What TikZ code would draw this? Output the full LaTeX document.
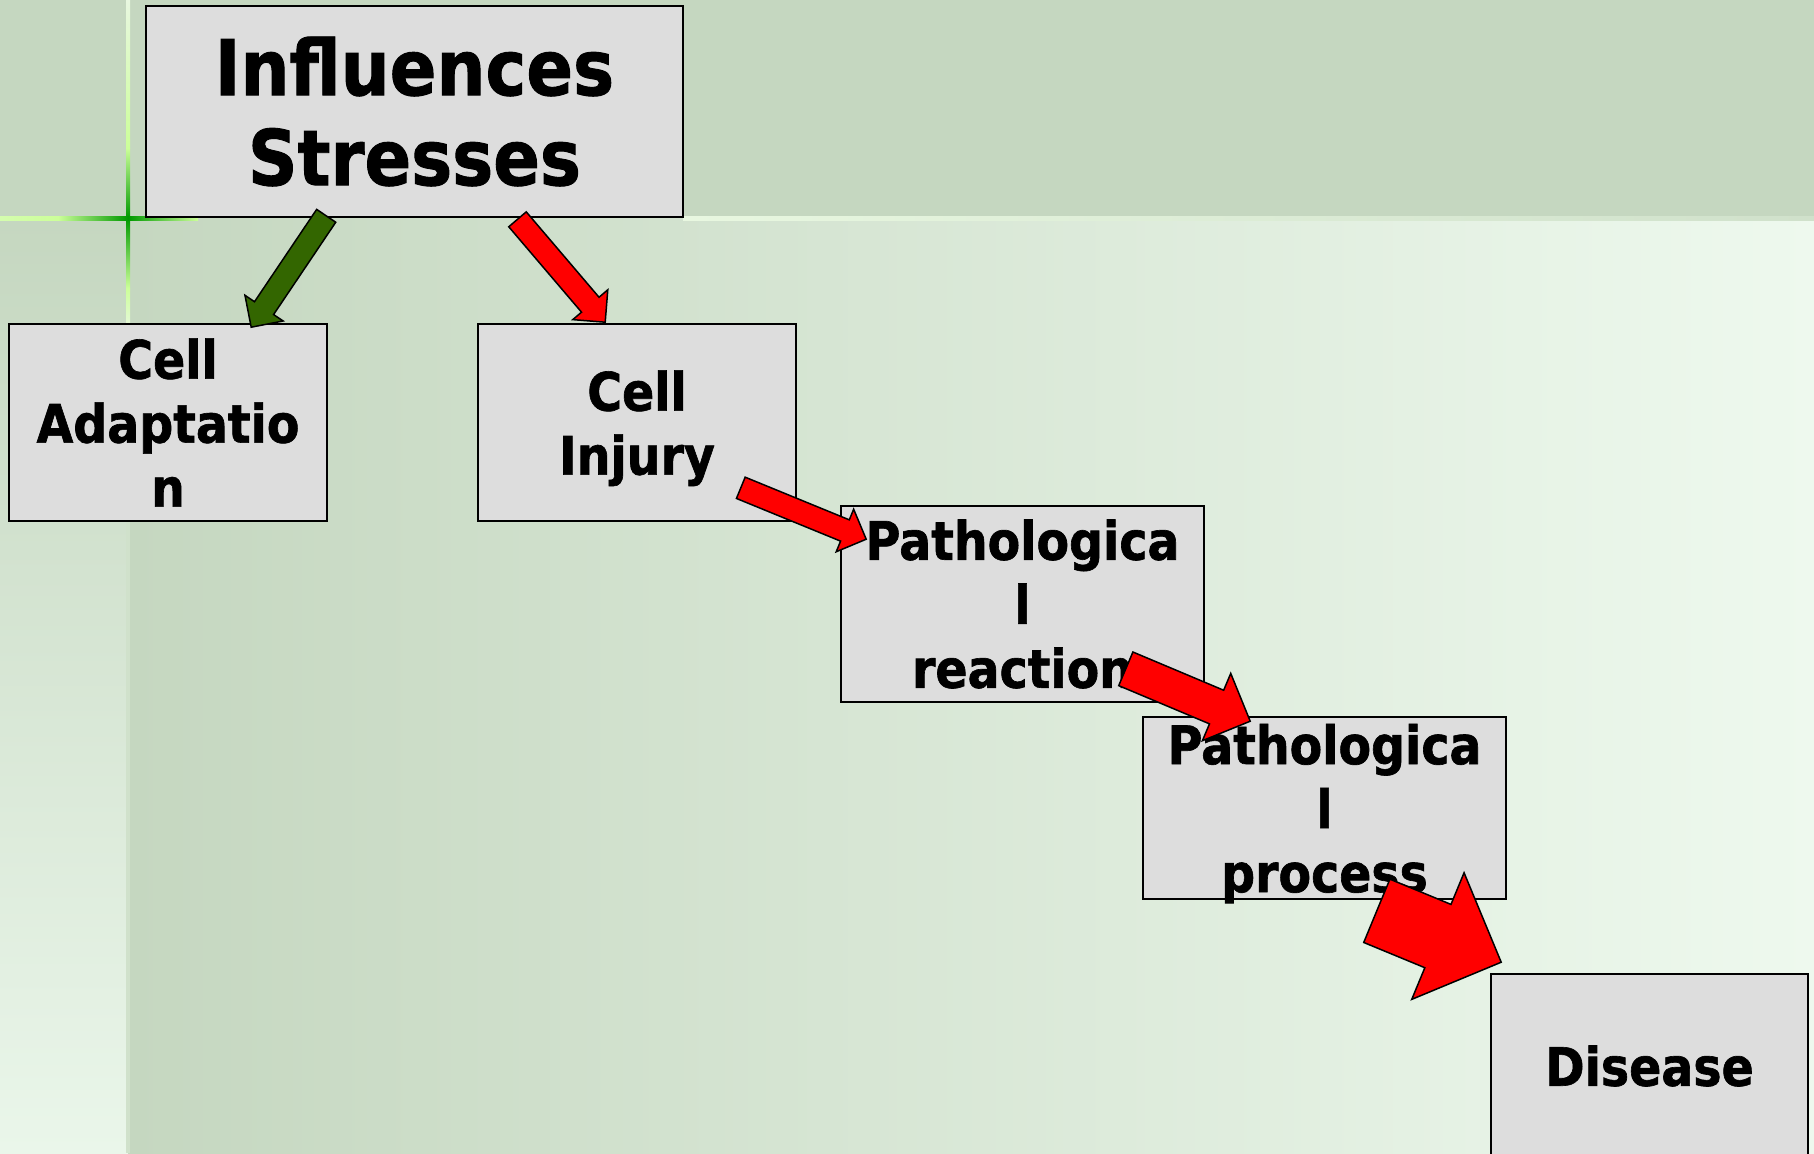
\documentclass[tikz,border=0pt]{standalone}
\usepackage{fontspec}
\setmainfont{DejaVu Sans}[FakeStretch=0.895, BoldFeatures={FakeBold=1.2}]
\usetikzlibrary{calc}

\definecolor{bandgreen}{HTML}{C5D7C0}
\definecolor{palegreen}{HTML}{EEF9EE}
\definecolor{leftpale}{HTML}{EAF6EA}
\definecolor{boxgray}{HTML}{DDDDDD}
\definecolor{leafgreen}{HTML}{336600}
\definecolor{crossgreen}{HTML}{009900}
\definecolor{limegreen}{HTML}{CCFF99}
\definecolor{lineglow}{HTML}{E8F7E0}
\definecolor{linefade}{HTML}{D0E1CB}

\newcommand\headfont{\fontsize{38.5pt}{45pt}\selectfont\bfseries}
\newcommand\stagefont{\fontsize{26.5pt}{32pt}\selectfont\bfseries}

\tikzset{
  stage/.style={draw=black, line width=0.8pt, fill=boxgray, inner sep=0pt, align=center, font=\stagefont},
  fatline/.style={draw=black, line width=0.75pt, line join=miter},
}

% block arrow: fill, tail, tip, half width of the shaft
\newcommand\fatarrow[4]{%
  \coordinate (neck) at ($(#3)!{2*#4}!(#2)$);
  \draw[fatline, fill=#1] ($(#2)!#4!90:(#3)$) -- ($(neck)!#4!90:(#3)$)
    -- ($(neck)!{2*#4}!90:(#3)$) -- (#3) -- ($(neck)!{2*#4}!-90:(#3)$)
    -- ($(neck)!#4!-90:(#3)$) -- ($(#2)!#4!-90:(#3)$) -- cycle;
}

\begin{document}
\begin{tikzpicture}[x=0.5pt, y=-0.5pt]
\useasboundingbox (0,0) rectangle (1814,1153);

% background
\fill[bandgreen] (0,0) rectangle (1814,218);
\shade[top color=bandgreen, bottom color=leftpale] (0,218) rectangle (128,1153);
\shade[left color=bandgreen, right color=palegreen] (128,218) rectangle (1814,1153);

% cross lines
\shade[top color=lineglow, bottom color=limegreen] (126,0) rectangle (130,148);
\shade[top color=limegreen, bottom color=crossgreen] (126,148) rectangle (130,218);
\shade[top color=crossgreen, bottom color=limegreen] (126,218) rectangle (130,288);
\shade[top color=limegreen, bottom color=lineglow] (126,288) rectangle (130,330);
\fill[linefade] (126,521) rectangle (130,1153);
\shade[left color=limegreen!70!lineglow, right color=limegreen] (0,216) rectangle (58,220);
\shade[left color=limegreen, right color=crossgreen] (58,216) rectangle (128,220);
\shade[left color=crossgreen, right color=limegreen] (128,216) rectangle (198,220);
\shade[left color=lineglow, right color=linefade] (683,216) rectangle (1814,220);

% boxes
\node[stage, font=\headfont, minimum width=268.5pt, minimum height=105.5pt] (infl) at (414.5,111.5) {Influences\\Stresses};
\node[stage, minimum width=159pt, minimum height=98.5pt] (adapt) at (168,422.5) {Cell\\Adaptatio\\n};
\node[stage, minimum width=159pt, minimum height=98.5pt] (injury) at (637,422.5) {Cell\\\smash{Injury}};
\node[stage, minimum width=181.5pt, minimum height=98pt] (react) at (1022.5,604) {Pathologica\\l\\reaction};
\node[stage, minimum width=181.5pt, minimum height=91pt] (process) at (1324.5,808) {Pathologica\\l\\\smash{process}};
\node[stage, minimum width=158.5pt, minimum height=92pt] (disease) at (1649.5,1066) {Disease};

% arrows
\coordinate (toadapt-a) at ($(infl.south west)+(181,-2)$);
\coordinate (toadapt-b) at ($(adapt.north west)+(243,4)$);
\coordinate (toinjury-a) at ($(infl.south)+(103,1.5)$);
\coordinate (toinjury-b) at ($(injury.north west)+(128,-1)$);
\coordinate (toreact-a) at ($(injury.south east)+(-56,-34)$);
\coordinate (toreact-b) at ($(react.north west)+(26,34)$);
\coordinate (toprocess-a) at ($(react.south east)+(-79,-34)$);
\coordinate (toprocess-b) at ($(process.north west)+(108,5)$);
\coordinate (todisease-a) at ($(process.south east)+(-130,11)$);
\coordinate (todisease-b) at ($(disease.north west)+(11,-11)$);

\fatarrow{leafgreen}{toadapt-a}{toadapt-b}{5.75pt}
\fatarrow{red}{toinjury-a}{toinjury-b}{5.75pt}
\fatarrow{red}{toreact-a}{toreact-b}{5.75pt}
\fatarrow{red}{toprocess-a}{toprocess-b}{9.125pt}
\fatarrow{red}{todisease-a}{todisease-b}{17.125pt}
\end{tikzpicture}
\end{document}
